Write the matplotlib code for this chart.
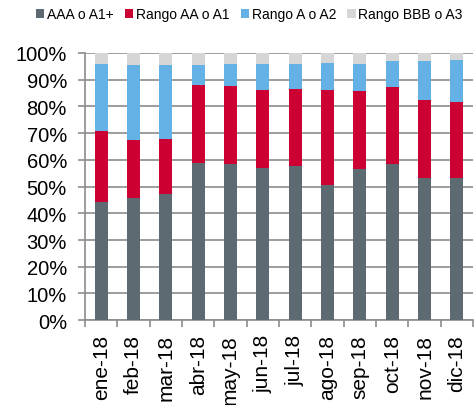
import matplotlib.pyplot as plt
import numpy as np

plt.rcParams['font.family'] = ['Liberation Sans', 'DejaVu Sans']

meses = ['ene-18', 'feb-18', 'mar-18', 'abr-18', 'may-18', 'jun-18',
         'jul-18', 'ago-18', 'sep-18', 'oct-18', 'nov-18', 'dic-18']
aaa = [44.1, 45.8, 47.2, 58.7, 58.4, 56.9, 57.7, 50.6, 56.7, 58.4, 53.3, 53.3]
aa = [26.8, 21.5, 20.7, 29.4, 29.4, 29.4, 28.9, 35.4, 29.2, 29.0, 29.1, 28.5]
a = [25.1, 28.3, 27.7, 7.5, 8.1, 9.6, 9.4, 10.3, 10.1, 9.6, 14.5, 15.5]
bbb = [4.0, 4.4, 4.4, 4.4, 4.1, 4.1, 4.0, 3.7, 4.0, 3.0, 3.1, 2.7]

nombres = ['AAA o A1+', 'Rango AA o A1', 'Rango A o A2', 'Rango BBB o A3']
colores = ['#5E6A72', '#CC0033', '#63B1E5', '#D6D6D6']

fig = plt.figure(figsize=(4.75, 4.06), dpi=100)
ax = fig.add_axes([0.179, 0.209, 0.817, 0.658])

x = np.arange(len(meses))
base = np.zeros(len(meses))
for serie, nom, col in zip([aaa, aa, a, bbb], nombres, colores):
    ax.bar(x, serie, 0.4, bottom=base, color=col, label=nom, zorder=3)
    base = base + np.array(serie)

ax.set_ylim(0, 100)
ax.set_xlim(-0.5, len(meses) - 0.5)
ax.set_yticks(np.arange(0, 101, 10))
ax.set_yticklabels([f'{v}%' for v in range(0, 101, 10)], fontsize=14.5)
ax.yaxis.grid(True, color='#8C8C8C', linewidth=1.2, zorder=0)

ax.set_xticks(x)
ax.set_xticklabels(meses, rotation=90, fontsize=15)
ax.tick_params(axis='x', length=0, pad=10)
ax.set_xticks(np.arange(-0.5, len(meses), 1), minor=True)
ax.tick_params(axis='x', which='minor', length=5, color='#8C8C8C', width=1.2)
ax.tick_params(axis='y', length=5, color='#8C8C8C', width=1.2, pad=8)

for s in ['top', 'right']:
    ax.spines[s].set_visible(False)
for s in ['left', 'bottom']:
    ax.spines[s].set_color('#8C8C8C')
    ax.spines[s].set_linewidth(1.2)

fig.legend(loc='upper center', bbox_to_anchor=(0.525, 1.01), ncol=4, frameon=False,
           fontsize=10, handlelength=0.6, handleheight=0.6, handletextpad=0.2,
           columnspacing=0.8)

fig.savefig('out.png', dpi=100)
